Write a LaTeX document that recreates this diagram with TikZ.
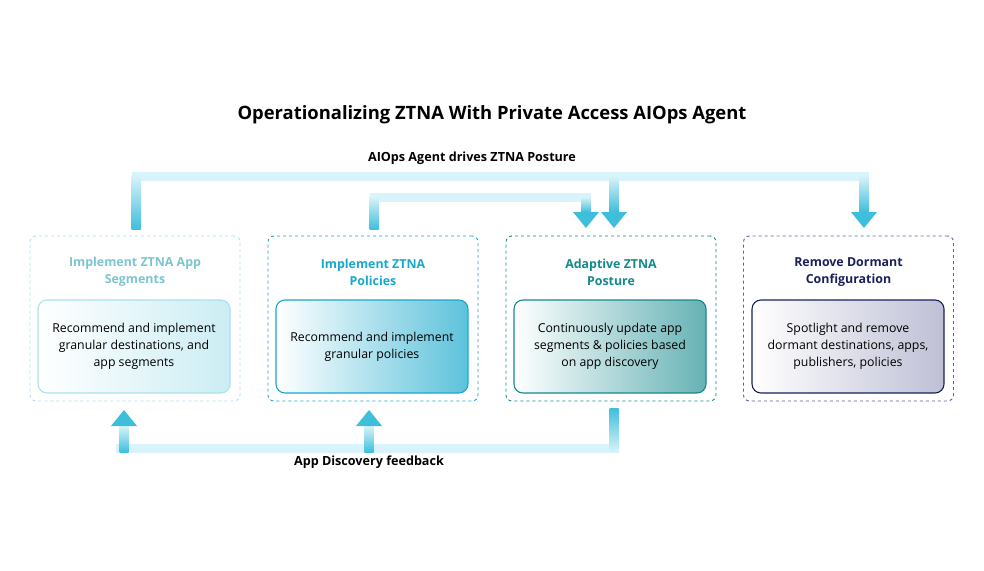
\documentclass[tikz,border=0pt]{standalone}
\usepackage{fontspec}
\setmainfont{Open Sans}
\usetikzlibrary{arrows.meta,positioning}
\definecolor{segc}{HTML}{7CC4D0}
\definecolor{segb}{HTML}{A9E1EC}
\definecolor{polc}{HTML}{17A8CC}
\definecolor{posc}{HTML}{14898D}
\definecolor{remc}{HTML}{1A1F5C}
\definecolor{remb}{HTML}{5D6196}
\definecolor{bandl}{HTML}{D8F3F9}
\definecolor{bandd}{HTML}{3FBEDC}
\tikzset{
  outer/.style={draw=#1, dashed, rounded corners=6pt, line width=0.9pt, minimum width=210pt, minimum height=165pt},
  inner/.style={rounded corners=9pt, line width=1.1pt, minimum width=192pt, minimum height=93pt, align=center, font=\fontsize{12.3}{17}\selectfont},
  head/.style={align=center, font=\bfseries\fontsize{12.4}{17}\selectfont, text=#1},
  band/.style={bandl, line width=9pt},
  stub/.style={top color=bandl, bottom color=bandd},
  upstub/.style={top color=bandd, bottom color=bandl},
}
\begin{document}
\begin{tikzpicture}[x=1pt,y=-1pt]
    \useasboundingbox (0,0) rectangle (984,570);
    % title and band labels
    \node[font=\bfseries\fontsize{18.4}{22}\selectfont] (title) at (492,115) {Operationalizing ZTNA With Private Access AIOps Agent};
    \node[font=\bfseries\fontsize{12.6}{15}\selectfont] (top) at (472,158) {AIOps Agent drives ZTNA Posture};
    \node[font=\bfseries\fontsize{12.6}{15}\selectfont] (bot) at (369,462) {App Discovery feedback};
    % stages
    \node[outer=segb] (seg) at (135,318.5) {};
    \node[outer=polc] (pol) at (373,318.5) {};
    \node[outer=posc] (pos) at (611,318.5) {};
    \node[outer=remb] (rem) at (848.5,318.5) {};
    \node[head=segc] (segh) at (135,272) {Implement ZTNA App\\Segments};
    \node[head=polc] (polh) at (373,272) {Implement ZTNA\\Policies};
    \node[head=posc] (posh) at (611,272) {Adaptive ZTNA\\Posture};
    \node[head=remc] (remh) at (848.5,272) {Remove Dormant\\Configuration};
    \node[inner, draw=segb, left color=white, right color=segb!60] (segi) at (134,346.5) {Recommend and implement\\granular destinations, and\\app segments};
    \node[inner, draw=polc, left color=white, right color=polc!70] (poli) at (372,346.5) {Recommend and implement\\granular policies};
    \node[inner, draw=posc, left color=white, right color=posc!65] (posi) at (610,346.5) {Continuously update app\\segments \& policies based\\on app discovery};
    \node[inner, draw=remc, left color=white, right color=remb!40] (remi) at (848,346.5) {Spotlight and remove\\dormant destinations, apps,\\publishers, policies};
    % top bands
    \coordinate (a1) at (131.5,176);
    \coordinate (a2) at (868.5,176);
    \coordinate (b1) at (369.5,197);
    \coordinate (b2) at (590.5,197);
    \draw[band] (a1) -- (a2);
    \draw[band] (b1) -- (b2);
    \shade[stub] (131.5,176) rectangle (140.5,229);
    \shade[stub] (369.5,197) rectangle (378.5,229);
    \shade[stub] (581.5,197) rectangle (590.5,212);
    \shade[stub] (609.5,176) rectangle (618.5,212);
    \shade[stub] (859.5,176) rectangle (868.5,212);
    \fill[bandd] (573,212) -- (599,212) -- (586,228) -- cycle;
    \fill[bandd] (601,212) -- (627,212) -- (614,228) -- cycle;
    \fill[bandd] (851,212) -- (877,212) -- (864,228) -- cycle;
    % bottom band
    \coordinate (c1) at (618.5,448);
    \coordinate (c2) at (116,448);
    \draw[band] (c1) -- (c2);
    \shade[upstub] (609.5,408) rectangle (618.5,452);
    \shade[stub] (119.5,426) rectangle (128.5,452);
    \shade[stub] (364.5,426) rectangle (373.5,452);
    \fill[bandd] (111,426) -- (137,426) -- (124,410) -- cycle;
    \fill[bandd] (356,426) -- (382,426) -- (369,410) -- cycle;
\end{tikzpicture}
\end{document}
